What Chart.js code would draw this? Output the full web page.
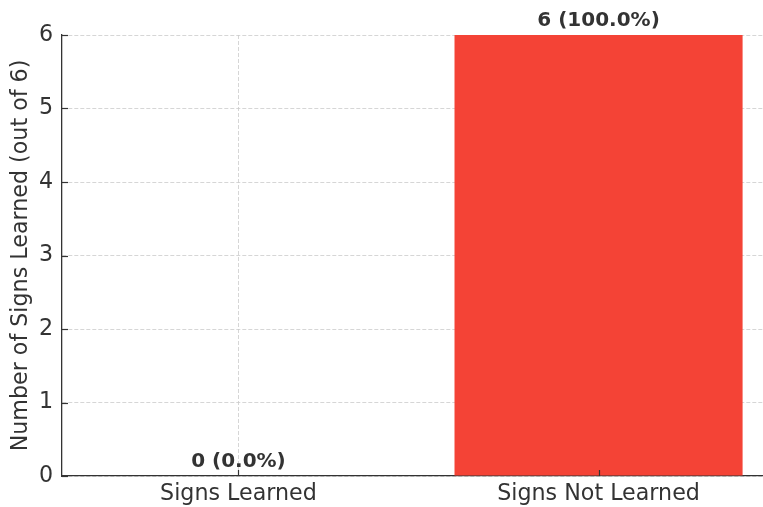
<!DOCTYPE html>
<html>
<head>
<meta charset="utf-8">
<script src="https://cdn.jsdelivr.net/npm/chart.js@4/dist/chart.umd.min.js"></script>
<style>
  html, body { margin: 0; padding: 0; background: #fff; overflow: hidden; }
  #wrap { position: relative; width: 780px; height: 507px; }
</style>
</head>
<body>
<div id="wrap"><canvas id="c" width="780" height="507"></canvas></div>
<script>
const categories = ["Signs Learned", "Signs Not Learned"];
const values = [0, 6];
const totalSigns = 6;
const yTicks = [0, 1, 2, 3, 4, 5, 6];
const barColors = ["#F44336", "#F44336"];

const FONT = "'DejaVu Sans', sans-serif";
const TEXT = "#333333";

const inwardTicks = {
  id: 'inwardTicks',
  afterDraw(chart) {
    const ctx = chart.ctx;
    ctx.save();
    ctx.strokeStyle = TEXT;
    ctx.lineWidth = 1.2;
    const xs = chart.scales.x, ys = chart.scales.y;
    xs.ticks.forEach((t, i) => {
      const px = Math.round(xs.getPixelForTick(i)) + 0.5;
      ctx.beginPath(); ctx.moveTo(px, ys.bottom); ctx.lineTo(px, ys.bottom - 6); ctx.stroke();
    });
    ys.ticks.forEach((t, i) => {
      const py = Math.round(ys.getPixelForTick(i)) + 0.5;
      ctx.beginPath(); ctx.moveTo(xs.left, py); ctx.lineTo(xs.left + 6, py); ctx.stroke();
    });
    ctx.restore();
  }
};

const valueLabels = {
  id: 'valueLabels',
  afterDraw(chart) {
    const ctx = chart.ctx;
    const meta = chart.getDatasetMeta(0);
    ctx.save();
    ctx.font = "bold 20px " + FONT;
    ctx.fillStyle = TEXT;
    ctx.textAlign = 'center';
    ctx.textBaseline = 'alphabetic';
    meta.data.forEach((bar, i) => {
      const v = values[i];
      const pct = (v / totalSigns * 100).toFixed(1);
      ctx.fillText(v + " (" + pct + "%)", bar.x, bar.y - 9.5);
    });
    ctx.restore();
  }
};

new Chart(document.getElementById('c'), {
  type: 'bar',
  data: {
    datasets: [{
      data: values.map((v, i) => ({ x: i, y: v })),
      backgroundColor: barColors,
      borderWidth: 0,
      barPercentage: 0.8,
      categoryPercentage: 1.0
    }]
  },
  options: {
    responsive: false,
    animation: false,
    devicePixelRatio: 1,
    layout: { padding: { top: 35, right: 5, left: 0, bottom: 0 } },
    plugins: { legend: { display: false }, tooltip: { enabled: false } },
    scales: {
      x: {
        type: 'linear',
        min: -0.49,
        max: 1.49,
        offset: false,
        z: 1,
        afterBuildTicks: (s) => { s.ticks = categories.map((c, i) => ({ value: i })); },
        afterFit: (s) => { s.height = 31; },
        ticks: {
          callback: (v) => categories[v],
          font: { family: FONT, size: 22.2 },
          color: TEXT,
          padding: 5,
          maxRotation: 0,
          autoSkip: false
        },
        grid: {
          offset: false,
          color: '#cccccc',
          lineWidth: 0.8,
          drawTicks: false
        },
        border: { display: true, color: TEXT, width: 1.3, dash: [4, 2] }
      },
      y: {
        min: 0,
        max: 6,
        z: 1,
        afterBuildTicks: (s) => { s.ticks = yTicks.map(v => ({ value: v })); },
        afterFit: (s) => { s.width = 62; },
        ticks: {
          font: { family: FONT, size: 22.2 },
          color: TEXT,
          padding: 9
        },
        grid: {
          color: '#cccccc',
          lineWidth: 0.8,
          drawTicks: false
        },
        border: { display: true, color: TEXT, width: 1.3, dash: [4, 2] },
        title: {
          display: true,
          text: "Number of Signs Learned (out of 6)",
          font: { family: FONT, size: 22.2 },
          color: TEXT,
          padding: { top: 8, bottom: 0 }
        }
      }
    }
  },
  plugins: [inwardTicks, valueLabels]
});
</script>
</body>
</html>
